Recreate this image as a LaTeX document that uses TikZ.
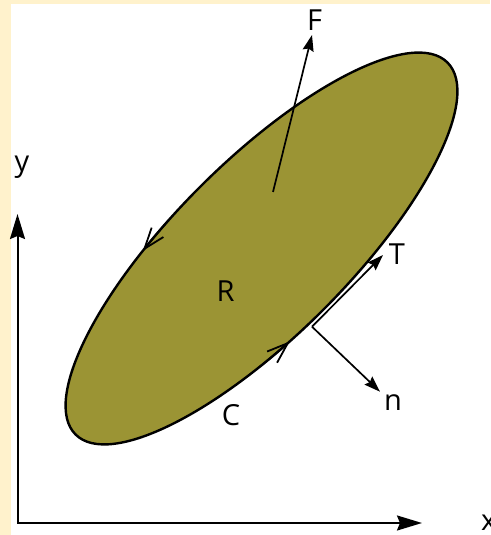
\documentclass[tikz,border=0pt]{standalone}
\usepackage{fontspec}
\setmainfont{Open Sans}
\usetikzlibrary{arrows.meta}
\definecolor{creamband}{RGB}{255,242,204}
\definecolor{regionfill}{RGB}{155,148,52}
\begin{document}
\begin{tikzpicture}[x=1pt,y=1pt,
  lbl/.style={font=\fontsize{29}{34}\selectfont, inner sep=0pt, anchor=base},
  axisline/.style={line width=2pt, line join=miter,
    {Stealth[length=25pt,width=15pt,inset=3pt]}-{Stealth[length=25pt,width=15pt,inset=3pt]}},
  vec/.style={line width=1.7pt, -{Stealth[length=16pt,width=11pt,inset=2pt]}},
  orient/.style={line width=1.8pt, -{Straight Barb[length=21pt,width=15pt]}}]
\useasboundingbox (0,0) rectangle (490,535);
\fill[creamband] (0,0) rectangle (490,535);
\fill[white] (11,0) rectangle (490,531);
% axes
\coordinate (O) at (17.5,12);
\coordinate (Ytip) at (17.5,321);
\coordinate (Xtip) at (422,12);
\draw[axisline] (Ytip) -- (O) -- (Xtip);
% region
\begin{scope}[shift={(261.5,286.5)}, rotate=45]
  \filldraw[fill=regionfill, line width=2.4pt] (0,0) ellipse [x radius=263, y radius=87];
  \draw[orient] (100:263 and 87) arc [start angle=100, end angle=109, x radius=263, y radius=87];
  \draw[orient] (251:263 and 87) arc [start angle=251, end angle=260, x radius=263, y radius=87];
\end{scope}
% vectors
\coordinate (Fs) at (273,343);
\coordinate (Fe) at (312,500);
\coordinate (P) at (312,208.3);
\coordinate (Te) at (383,280);
\coordinate (ne) at (380,143.3);
\draw[vec] (Fs) -- (Fe);
\draw[vec] (P) -- (Te);
\draw[vec] (P) -- (ne);
% labels
\node[lbl] (lF) at (314.5,504) {F};
\node[lbl] (ly) at (22,363) {y};
\node[lbl] (lR) at (225.5,233) {R};
\node[lbl] (lC) at (231,109) {C};
\node[lbl] (lT) at (397,270) {T};
\node[lbl] (ln) at (393,124) {n};
\node[lbl, anchor=base west] (lx) at (481,5) {x};
\end{tikzpicture}
\end{document}
